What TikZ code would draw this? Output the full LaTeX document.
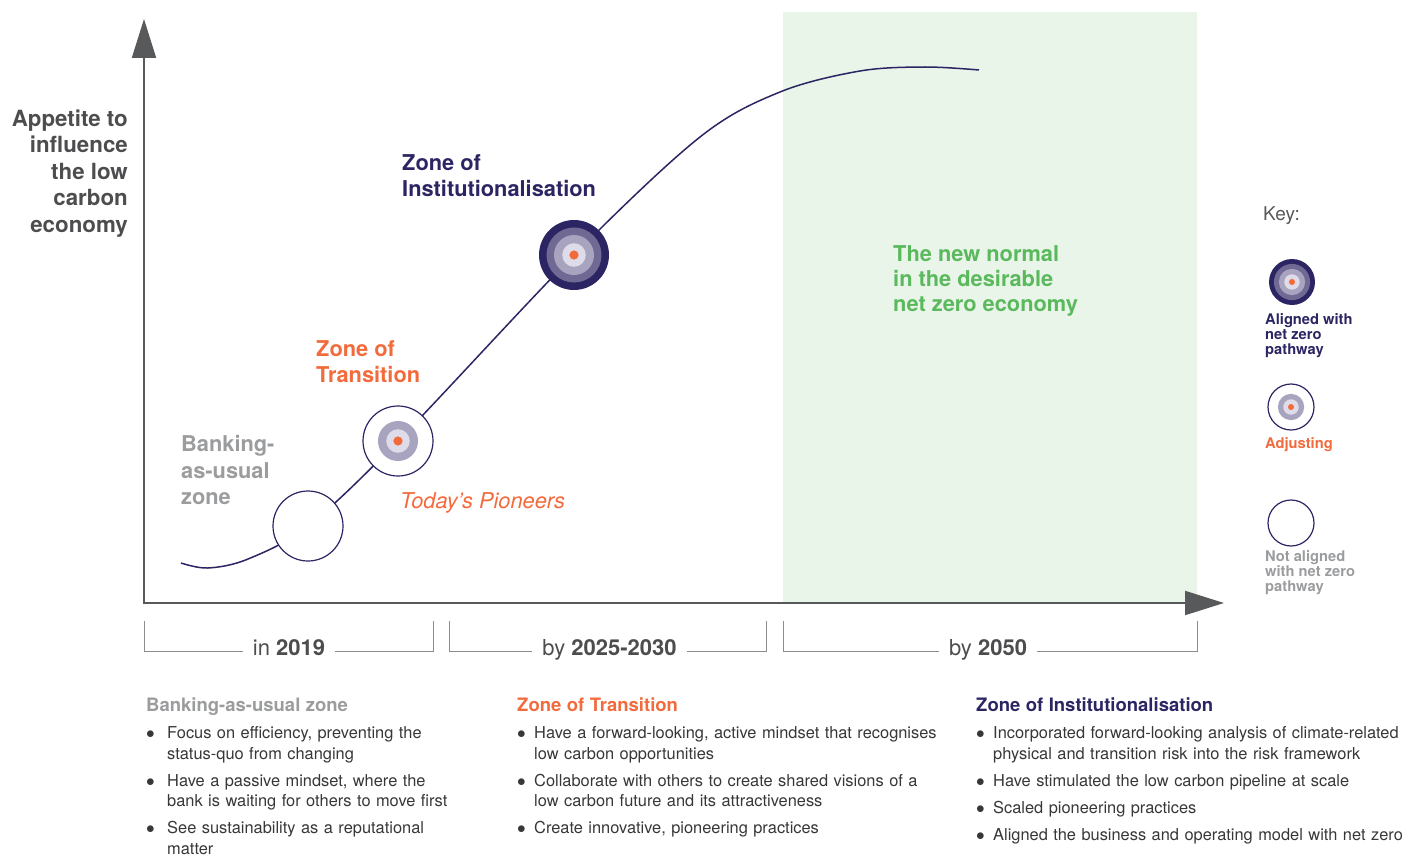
\documentclass[tikz,border=0pt]{standalone}
\usepackage{fontspec}
\setmainfont{TeX Gyre Heros}
\usetikzlibrary{arrows.meta,positioning}

\definecolor{navy}{RGB}{43,37,99}
\definecolor{ringmid}{RGB}{111,105,148}
\definecolor{ringgray}{RGB}{168,164,192}
\definecolor{ringlight}{RGB}{222,220,232}
\definecolor{tangerine}{RGB}{242,107,61}
\definecolor{baugray}{RGB}{155,156,158}
\definecolor{inkgray}{RGB}{77,77,79}
\definecolor{axisgray}{RGB}{88,89,91}
\definecolor{rulegray}{RGB}{140,140,140}
\definecolor{leafgreen}{RGB}{91,185,93}
\definecolor{mintbg}{RGB}{234,245,234}
\definecolor{bodytext}{RGB}{55,55,57}

\newlength{\kpindent}
\setlength{\kpindent}{17pt}
\newcommand{\keypoint}[1]{\par\hangindent=\kpindent\hangafter=1\noindent\hbox to \kpindent{$\bullet$\hfil}#1\par}

\tikzset{
  target/.style={circle, inner sep=0pt, outer sep=0pt, minimum size=#1, line width=1.2pt},
  aligned/.style={target=#1, fill=navy, path picture={
      \fill[ringmid] (path picture bounding box.center) circle[radius=0.393*#1];
      \fill[ringgray] (path picture bounding box.center) circle[radius=0.286*#1];
      \fill[ringlight] (path picture bounding box.center) circle[radius=0.168*#1];
      \fill[tangerine] (path picture bounding box.center) circle[radius=0.066*#1];}},
  adjusting/.style={target=#1, draw=navy, fill=white, path picture={
      \fill[ringgray] (path picture bounding box.center) circle[radius=0.286*#1];
      \fill[ringlight] (path picture bounding box.center) circle[radius=0.168*#1];
      \fill[tangerine] (path picture bounding box.center) circle[radius=0.066*#1];}},
  notaligned/.style={target=#1, draw=navy, fill=white},
  axis/.style={draw=axisgray, line width=2pt, -{Triangle[length=39pt,width=24pt]}},
  trend/.style={draw=navy, line width=1.5pt},
  bracket/.style={draw=rulegray, line width=1pt},
  period/.style={font=\fontsize{22}{26}\selectfont, text=inkgray, inner xsep=10pt, inner ysep=0pt, text height=15.8pt, text depth=7pt},
  zonelabel/.style={anchor=north west, align=left, inner sep=0pt, font=\fontsize{21.8}{26}\selectfont\bfseries},
  keytext/.style={anchor=north west, align=left, inner sep=0pt, font=\fontsize{14.7}{15}\selectfont\bfseries},
  notes/.style={anchor=north west, inner sep=0pt, text width=#1, align=left, text=bodytext,
      font=\fontsize{16.4}{20.5}\selectfont,
      execute at begin node={\setlength{\parskip}{6.6pt}\setlength{\parindent}{0pt}}}
}

\begin{document}
\begin{tikzpicture}[x=1pt,y=-1pt]
\useasboundingbox (0,0) rectangle (1402,856);

% net zero area
\fill[mintbg] (783,12) rectangle (1197,603);

% axes
\coordinate (origin) at (144,603);
\coordinate (ytip) at (144,19);
\coordinate (xtip) at (1224,603);
\draw[axis] (origin) -- (ytip);
\draw[axis] ([xshift=-1pt]origin) -- (xtip);

\node[anchor=north east, align=right, inner sep=0pt, text=inkgray, font=\fontsize{22.3}{26.5}\selectfont\bfseries] (appetite) at (128,109.5) {Appetite to\\influence\\the low\\carbon\\economy};

% the curve
\coordinate (pBAU) at (308,526);
\coordinate (pTR) at (398,441);
\coordinate (pINST) at (574,255);
\coordinate (cstart) at (181,563);
\coordinate (cend) at (979,70);
\draw[trend] plot[smooth, tension=0.55] coordinates {(cstart) (208,568) (248,559) (pBAU) (pTR) (pINST) (700,137) (780,92) (860,71) (925,67) (cend)};

\node[notaligned=70pt] (bau) at (pBAU) {};
\node[adjusting=70pt] (trans) at (pTR) {};
\node[aligned=70pt] (inst) at (pINST) {};

% zone labels
\node[zonelabel, text=navy] (instlbl) at (402,154) {Zone of\\Institutionalisation};
\node[zonelabel, text=tangerine] (translbl) at (316,340.5) {Zone of\\Transition};
\node[zonelabel, text=baugray, font=\fontsize{21.8}{26.5}\selectfont\bfseries] (baulbl) at (181,435.5) {Banking-\\as-usual\\zone};
\node[anchor=base west, inner sep=0pt, text=tangerine, font=\fontsize{21.8}{25}\selectfont\itshape] (pioneers) at (400,508) {Today’s Pioneers};
\node[zonelabel, text=leafgreen, font=\fontsize{21.8}{25}\selectfont\bfseries] (newnormal) at (893,245.5) {The new normal\\in the desirable\\net zero economy};

% periods
\node[period] (p2019) at (289,651) {in \textbf{2019}};
\node[period] (p2030) at (609.5,651) {by \textbf{2025-2030}};
\node[period] (p2050) at (988,651) {by \textbf{2050}};
\coordinate (b1l) at (144,621);
\coordinate (b1r) at (433,621);
\coordinate (b2l) at (449,621);
\coordinate (b2r) at (766,621);
\coordinate (b3l) at (783,621);
\coordinate (b3r) at (1197,621);
\draw[bracket] (b1l) |- (p2019.west);
\draw[bracket] (b1r) |- (p2019.east);
\draw[bracket] (b2l) |- (p2030.west);
\draw[bracket] (b2r) |- (p2030.east);
\draw[bracket] (b3l) |- (p2050.west);
\draw[bracket] (b3r) |- (p2050.east);

% key
\node[anchor=base west, inner sep=0pt, text=axisgray, font=\fontsize{19}{22}\selectfont] (key) at (1263,220) {Key:};
\node[aligned=46pt] (keyA) at (1292,282) {};
\node[adjusting=46pt] (keyB) at (1291,407) {};
\node[notaligned=46pt] (keyC) at (1291,523) {};
\node[keytext, text=navy] (keyAlbl) at (1265,313.5) {Aligned with\\net zero\\pathway};
\node[keytext, anchor=base west, text=tangerine] (keyBlbl) at (1265,448.5) {Adjusting};
\node[keytext, text=baugray] (keyClbl) at (1265,550.5) {Not aligned\\with net zero\\pathway};

% notes
\node[notes=310pt] (notesBAU) at (146,697.5) {\setlength{\kpindent}{21pt}%
  \textcolor{baugray}{\fontsize{18.5}{20.5}\selectfont\bfseries Banking-as-usual zone}
  \keypoint{Focus on efficiency, preventing the\newline status-quo from changing}
  \keypoint{Have a passive mindset, where the\newline bank is waiting for others to move first}
  \keypoint{See sustainability as a reputational\newline matter}};
\node[notes=440pt] (notesTR) at (517,697.5) {%
  \textcolor{tangerine}{\fontsize{18.5}{20.5}\selectfont\bfseries Zone of Transition}
  \keypoint{Have a forward-looking, active mindset that recognises\newline low carbon opportunities}
  \keypoint{Collaborate with others to create shared visions of a\newline low carbon future and its attractiveness}
  \keypoint{Create innovative, pioneering practices}};
\node[notes=440pt] (notesINST) at (976,697.5) {%
  \textcolor{navy}{\fontsize{18.5}{20.5}\selectfont\bfseries Zone of Institutionalisation}
  \keypoint{Incorporated forward-looking analysis of climate-related\newline physical and transition risk into the risk framework}
  \keypoint{Have stimulated the low carbon pipeline at scale}
  \keypoint{Scaled pioneering practices}
  \keypoint{Aligned the business and operating model with net zero}};

\end{tikzpicture}
\end{document}
